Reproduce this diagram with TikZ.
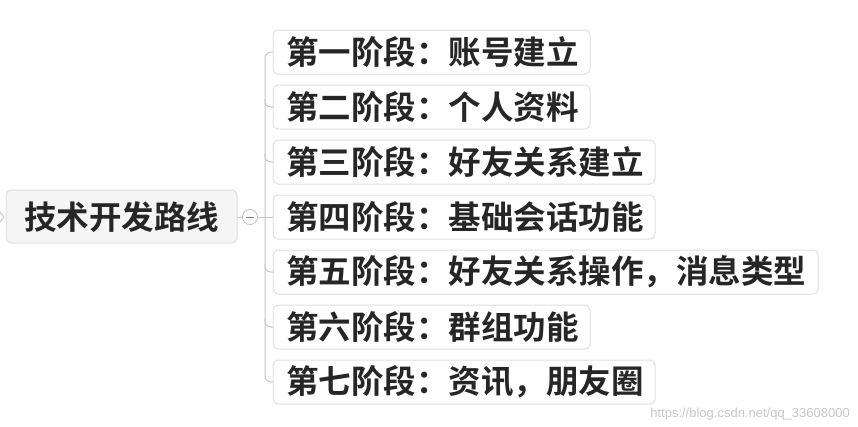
\documentclass[tikz,border=0pt]{standalone}
\usepackage{fontspec}
\setmainfont{Liberation Sans}
\newfontfamily\cjk{Noto Sans CJK SC}[BoldFont={Noto Sans CJK SC Bold}]
\begin{document}
\begin{tikzpicture}[x=1pt,y=-1pt,
  box/.style={draw=black!12,rounded corners=5pt,line width=1pt,fill=white},
  lbl/.style={anchor=west,inner sep=0pt,font=\cjk\bfseries\fontsize{32.5}{36}\selectfont,text=black!85},
  conn/.style={draw=black!22,line width=1pt,rounded corners=6pt}]
\useasboundingbox (0,0) rectangle (858,426);
\fill[white] (0,0) rectangle (858,426);
% root
\draw[box,fill=black!4] (6,190) rectangle (237,243);
\node[lbl] (root) at (24,217) {技术开发路线};
\draw[black!22,line width=1pt] (0,212) -- (4,217) -- (0,222);
\coordinate (rr) at (237,217);
\node[circle,draw=black!25,line width=0.8pt,minimum size=15pt,inner sep=0pt] (tog) at (250,217) {};
\draw[black!50,line width=0.8pt] (246,217) -- (254,217);
\draw[conn] (rr) -- (tog.west);
\foreach \i/\y/\r/\t in {1/52/590/第一阶段：账号建立,2/107/590/第二阶段：个人资料,3/162/655/第三阶段：好友关系建立,4/217/655/第四阶段：基础会话功能,5/272/818/第五阶段：好友关系操作，消息类型,6/327/590/第六阶段：群组功能,7/382/655/第七阶段：资讯，朋友圈}{
  \draw[box] (273,\y-22) rectangle (\r,\y+22);
  \node[lbl] (c\i) at (286,\y) {\t};
  \coordinate (e\i) at (273,\y);
}
\draw[conn] (e1) -- (265,52) -- (265,382) -- (e7);
\foreach \i/\y in {2/107,3/162,5/272,6/327}{
  \draw[conn] (265,\y-8) -- (265,\y) -- (e\i);
}
\draw[conn] (tog.east) -- (e4);
\node[anchor=south east,inner sep=2pt,font=\fontsize{13}{15}\selectfont,text=black!22] (wm) at (852,422) {https://blog.csdn.net/qq\_33608000};
\end{tikzpicture}
\end{document}
